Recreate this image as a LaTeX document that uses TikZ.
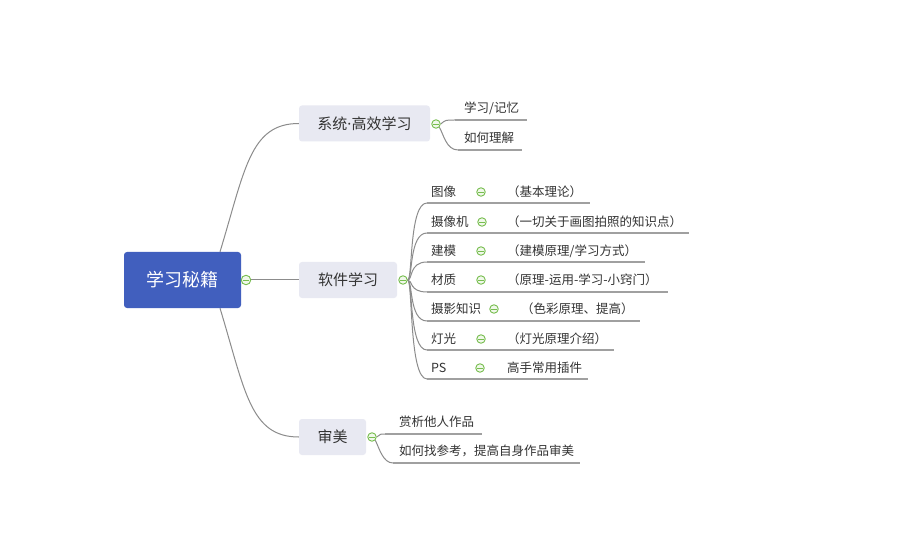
\documentclass[tikz,border=0pt]{standalone}
\usepackage{fontspec}
\setmainfont{Noto Sans CJK SC}
\newfontfamily\latinfont{Noto Sans}
\definecolor{rootfill}{RGB}{65,95,190}
\definecolor{mainfill}{RGB}{232,233,242}
\definecolor{txt}{RGB}{51,51,51}
\definecolor{tgreen}{RGB}{120,190,80}
\definecolor{tfill}{RGB}{240,248,234}
\definecolor{lgray}{RGB}{140,140,140}
\definecolor{ulgray}{RGB}{160,160,160}
\pgfdeclarelayer{bg}
\pgfsetlayers{bg,main}
\tikzset{
  rootbox/.style={fill=rootfill, rounded corners=3pt, text=white, font=\fontsize{18}{22}\selectfont, inner sep=0pt},
  mainbox/.style={fill=mainfill, rounded corners=3pt, text=txt, font=\fontsize{15}{18}\selectfont, minimum height=36pt, inner sep=0pt},
  sub/.style={anchor=west, inner sep=0pt, text=txt, font=\fontsize{12.5}{15}\selectfont},
  tog/.style={circle, draw=tgreen, fill=tfill, line width=0.9pt, minimum size=8.5pt, inner sep=0pt,
    path picture={\draw[tgreen, line width=0.9pt] ([xshift=-2.6pt]path picture bounding box.center) -- ([xshift=2.6pt]path picture bounding box.center);}},
  branch/.style={draw=lgray, line width=1pt},
  uline/.style={draw=ulgray, line width=1.3pt},
}
\begin{document}
\begin{tikzpicture}[x=1pt,y=-1pt]
\begin{pgfonlayer}{bg}
\fill[white] (0,0) rectangle (900,556);
\end{pgfonlayer}
\useasboundingbox (0,0) rectangle (900,556);

% main nodes
\node[rootbox, minimum width=117pt, minimum height=56pt] (root) at (182.5,280) {学习秘籍};
\node[mainbox, minimum width=131pt] (sys) at (364.5,123.5) {系统{\latinfont ·}高效学习};
\node[mainbox, minimum width=98pt] (soft) at (348,280) {软件学习};
\node[mainbox, minimum width=67pt] (aes) at (332.5,437) {审美};

% toggles
\node[tog, minimum size=9.5pt] (cR) at (246,280) {};
\node[tog] (cS) at (436,124) {};
\node[tog] (cW) at (403,280) {};
\node[tog] (cA) at (372,437) {};

% system subs
\node[sub] (s1) at (464,108) {学习/记忆};
\node[sub] (s2) at (464,138) {如何理解};
\coordinate (s1a) at (455,120); \coordinate (s1b) at (527,120);
\coordinate (s2a) at (458,150); \coordinate (s2b) at (522,150);

% software subs
\node[sub] (w1) at (431,192) {图像};
\node[sub] (w2) at (431,222) {摄像机};
\node[sub] (w3) at (431,251) {建模};
\node[sub] (w4) at (431,280) {材质};
\node[sub] (w5) at (431,309) {摄影知识};
\node[sub] (w6) at (431,339) {灯光};
\node[sub] (w7) at (431,368) {PS};

\node[tog] (t1) at (481,192) {};
\node[tog] (t2) at (482,222) {};
\node[tog] (t3) at (481,251) {};
\node[tog] (t4) at (481,280) {};
\node[tog] (t5) at (494,309) {};
\node[tog] (t6) at (481,339) {};
\node[tog] (t7) at (480,368) {};

\node[sub] (k1) at (507,192) {（基本理论）};
\node[sub] (k2) at (507,222) {（一切关于画图拍照的知识点）};
\node[sub] (k3) at (507,251) {（建模原理/学习方式）};
\node[sub] (k4) at (507,280) {（原理-运用-学习-小窍门）};
\node[sub] (k5) at (521,309) {（色彩原理、提高）};
\node[sub] (k6) at (507,339) {（灯光原理介绍）};
\node[sub] (k7) at (507,368) {高手常用插件};

\coordinate (u1a) at (427,203); \coordinate (u1b) at (590,203);
\coordinate (u2a) at (427,233); \coordinate (u2b) at (689,233);
\coordinate (u3a) at (427,262); \coordinate (u3b) at (645,262);
\coordinate (u4a) at (427,292); \coordinate (u4b) at (668,292);
\coordinate (u5a) at (427,321); \coordinate (u5b) at (640,321);
\coordinate (u6a) at (427,350); \coordinate (u6b) at (614,350);
\coordinate (u7a) at (427,379); \coordinate (u7b) at (588,379);

% aesthetics subs
\node[sub] (a1) at (399,422) {赏析他人作品};
\node[sub] (a2) at (399,451) {如何找参考，提高自身作品审美};
\coordinate (a1a) at (385,434); \coordinate (a1b) at (482,434);
\coordinate (a2a) at (393,463); \coordinate (a2b) at (580,463);

\begin{pgfonlayer}{bg}
% root connectors
\draw[branch] ([xshift=37.5pt]root.north) .. controls +(25,-82) and +(-49,0) .. (sys.west);
\draw[branch] ([xshift=37.5pt]root.south) .. controls +(25,82) and +(-49,0) .. (aes.west);
\draw[branch] (root.east) -- (soft.west);
% system
\draw[branch] (cS.east) .. controls +(5,-4) and +(-10,0) .. (s1a);
\draw[uline] (s1a) -- (s1b);
\draw[branch] (cS.south east) .. controls +(4,6) and +(-12,0) .. (s2a);
\draw[uline] (s2a) -- (s2b);
% software
\foreach \i in {1,...,7}{
  \draw[branch] (cW.east) .. controls +(5,0) and +(-18,0) .. (u\i a);
  \draw[uline] (u\i a) -- (u\i b);
}
% aesthetics
\draw[branch] (cA.east) .. controls +(5,-3) and +(-6,0) .. (a1a);
\draw[uline] (a1a) -- (a1b);
\draw[branch] (cA.south east) .. controls +(4,8) and +(-10,0) .. (a2a);
\draw[uline] (a2a) -- (a2b);
\end{pgfonlayer}
\end{tikzpicture}
\end{document}
